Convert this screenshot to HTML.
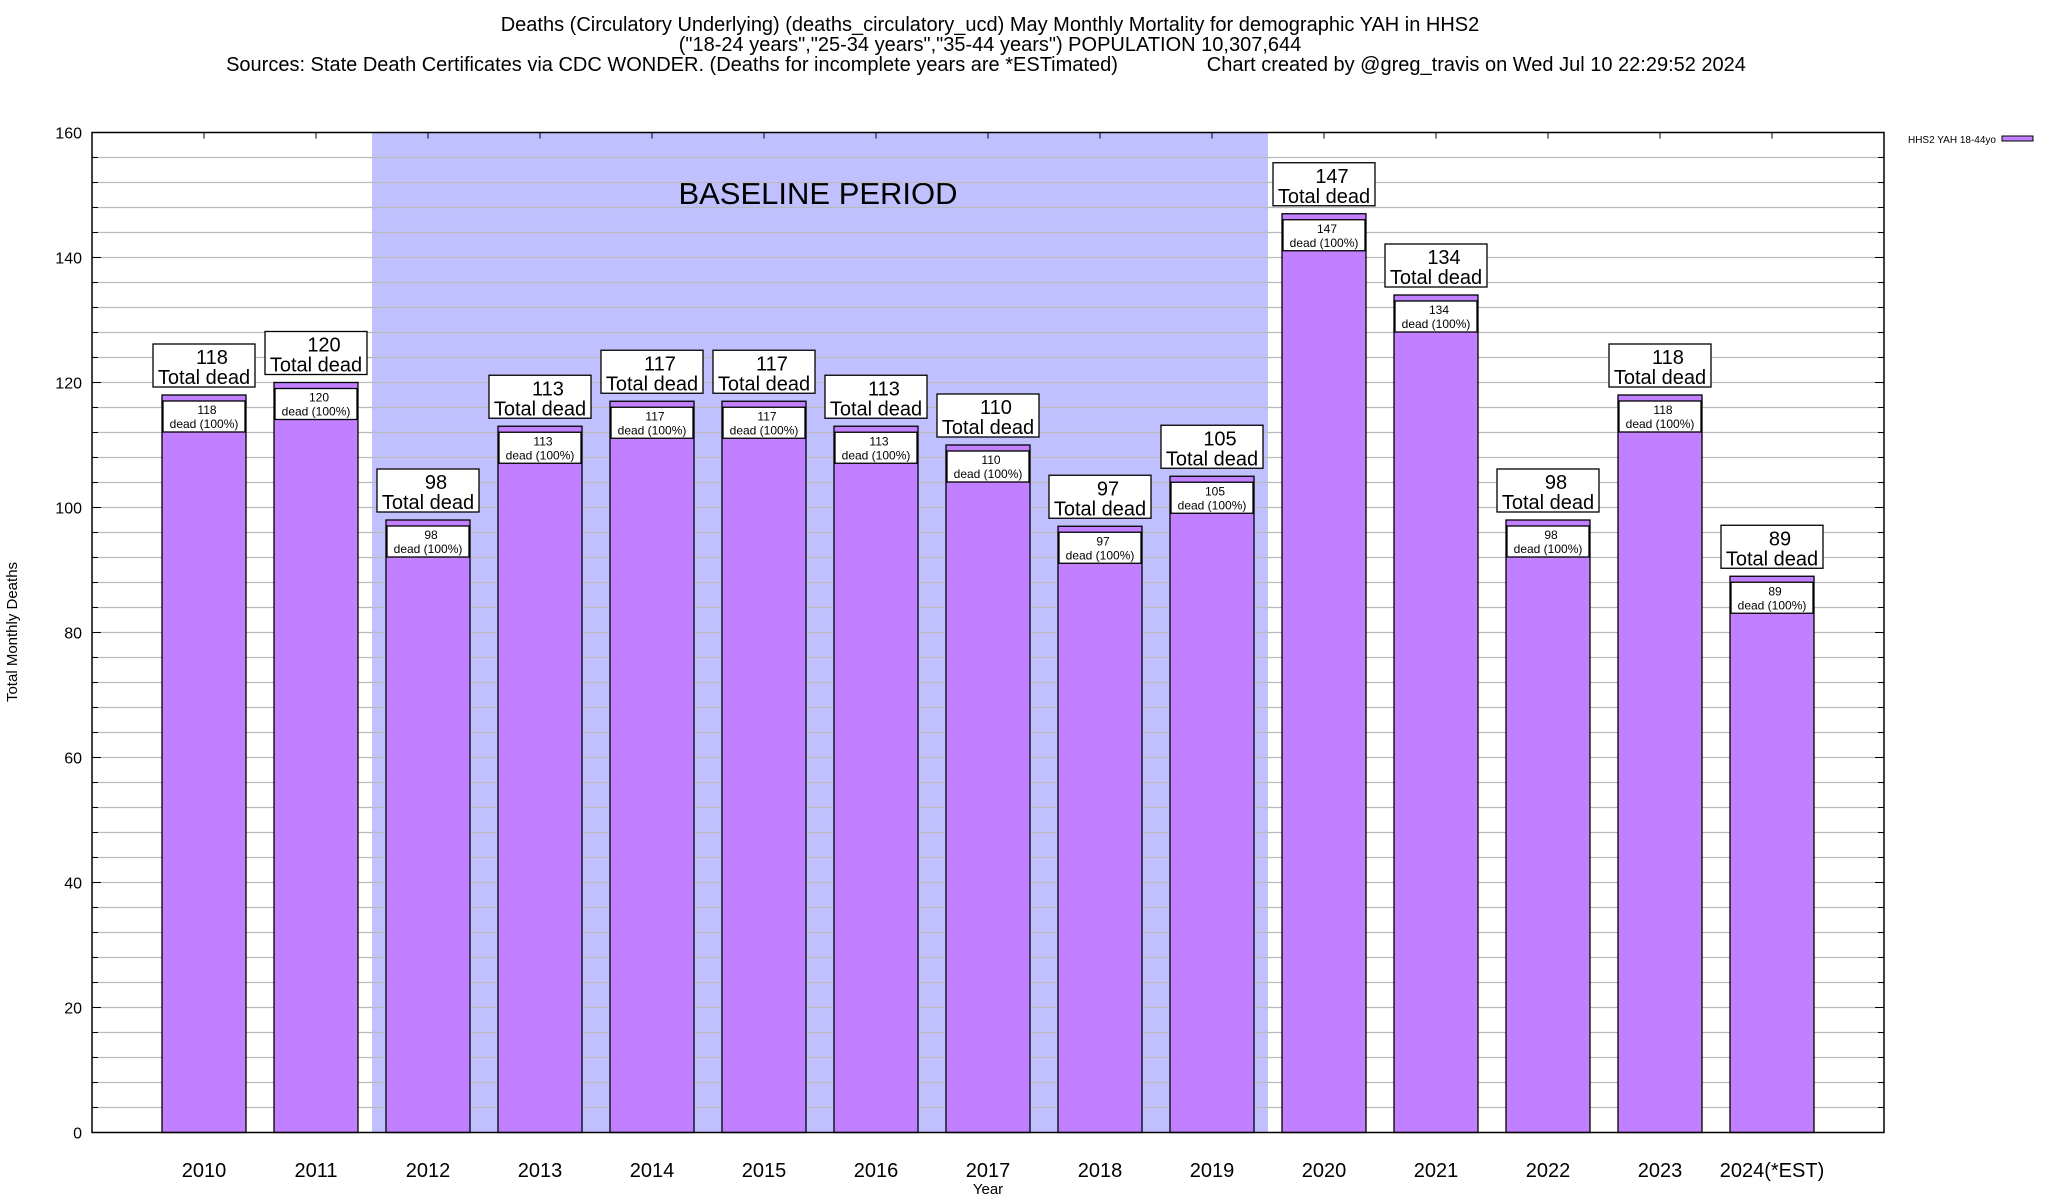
<!DOCTYPE html>
<html><head><meta charset="utf-8"><style>
body{margin:0;background:#fff;}
svg{display:block;font-family:"Liberation Sans",sans-serif;}
</style></head><body>
<svg id="chart" width="2048" height="1200" viewBox="0 0 2048 1200">
<g font-size="20" text-anchor="middle" fill="#000">
<text x="990" y="31">Deaths (Circulatory Underlying) (deaths_circulatory_ucd) May Monthly Mortality for demographic YAH in HHS2</text>
<text x="990" y="51">("18-24 years","25-34 years","35-44 years") POPULATION 10,307,644</text>
<text x="986" y="71" xml:space="preserve">Sources: State Death Certificates via CDC WONDER. (Deaths for incomplete years are *ESTimated)                Chart created by @greg_travis on Wed Jul 10 22:29:52 2024</text>
</g>
<g id="plot"></g>
<text x="17" y="632" transform="rotate(-90 17 632)" text-anchor="middle" font-size="15">Total Monthly Deaths</text>
<text x="988" y="1194" text-anchor="middle" font-size="15">Year</text>
<g>
<text x="1996" y="143" text-anchor="end" font-size="10">HHS2 YAH 18-44yo</text>
<rect x="2002" y="136" width="31" height="5" fill="#c080ff" stroke="#000"/>
</g>
</svg>
<script>
const categories=["2010","2011","2012","2013","2014","2015","2016","2017","2018","2019","2020","2021","2022","2023","2024(*EST)"];
const values=[118,120,98,113,117,117,113,110,97,105,147,134,98,118,89];
const yTicks=[0,20,40,60,80,100,120,140,160];
const baselineStart=2, baselineEnd=9;
const NS="http://www.w3.org/2000/svg";
const L=92,R=1884,T=132.5,B=1132.5,yMax=160,slot=(R-L)/(categories.length+1);
const xs=i=>L+slot*(i+1);
const ys=v=>B-(v/yMax)*(B-T);
const g=document.getElementById('plot');
function mk(tag,at,parent){const e=document.createElementNS(NS,tag);for(const k in at)e.setAttribute(k,at[k]);(parent||g).appendChild(e);return e;}
let sh=mk('rect',{x:xs(baselineStart)-slot/2,y:T,width:slot*(baselineEnd-baselineStart+1),height:B-T,fill:'#c0c0ff'});


let bt=mk('text',{x:(xs(baselineStart)+xs(baselineEnd))/2-2,y:204,'text-anchor':'middle','font-size':31});
bt.textContent='BASELINE PERIOD';


for(let v=4;v<yMax;v+=4){
 let l=mk('line',{x1:L,x2:R,y1:ys(v),y2:ys(v),stroke:'#bbb','stroke-width':1.3});
 
 
 mk('line',{x1:L,x2:L+(v%20?6:9),y1:ys(v),y2:ys(v),stroke:'#000'});
 mk('line',{x1:R,x2:R-(v%20?6:9),y1:ys(v),y2:ys(v),stroke:'#000'});
}
yTicks.forEach(v=>{
 let t=mk('text',{x:82,y:ys(v)+6,'text-anchor':'end','font-size':16});
 t.textContent=v;
 
 
});
categories.forEach((c,i)=>{
 const cx=xs(i),v=values[i],top=ys(v);
 mk('line',{x1:cx,x2:cx,y1:T,y2:T+6,stroke:'#000'});
 let b=mk('rect',{x:cx-42,y:top,width:84,height:B-top,fill:'#c080ff',stroke:'#000','stroke-width':1.3});
 
 
 let ib=mk('rect',{x:cx-41,y:top+6,width:82,height:31,fill:'#fff',stroke:'#000','stroke-width':1.3});
 
 
 let it=mk('text',{x:cx+3,y:top+19,'text-anchor':'middle','font-size':12});
 it.textContent=v;
 
 
 let it2=mk('text',{x:cx,y:top+33,'text-anchor':'middle','font-size':12});
 it2.textContent='dead (100%)';
 
 
 let ob=mk('rect',{x:cx-51,y:top-51,width:102,height:43,fill:'#fff',stroke:'#000','stroke-width':1.3});
 
 
 let ot=mk('text',{x:cx+8,y:top-31,'text-anchor':'middle','font-size':20});
 ot.textContent=v;
 
 
 let ot2=mk('text',{x:cx,y:top-11,'text-anchor':'middle','font-size':20});
 ot2.textContent='Total dead';
 
 
 let xl=mk('text',{x:cx,y:1177,'text-anchor':'middle','font-size':20});
 xl.textContent=c;
 
 
});
let fr=mk('rect',{x:L,y:T,width:R-L,height:B-T,fill:'none',stroke:'#000','stroke-width':1.5});


</script>
</body></html>
